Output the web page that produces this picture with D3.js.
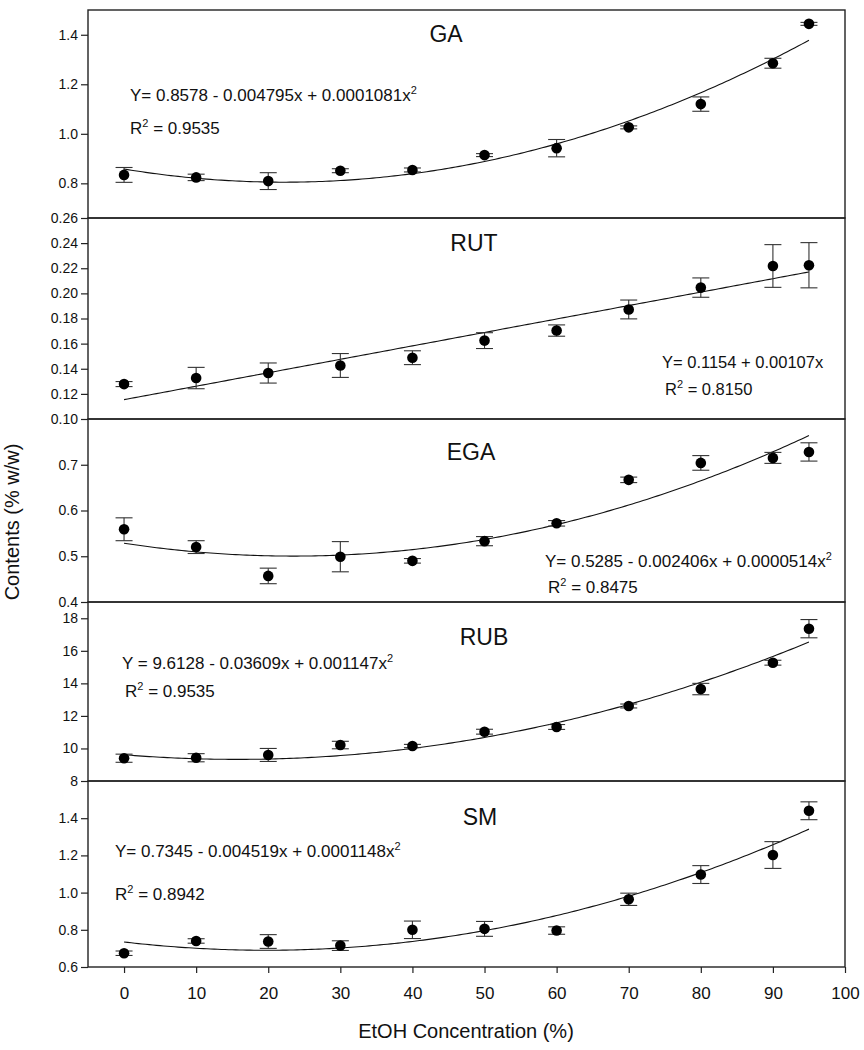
<!DOCTYPE html>
<html><head><meta charset="utf-8">
<script src="https://cdn.jsdelivr.net/npm/d3@7"></script>
<style>body{margin:0;background:#fff}svg{display:block}text{font-family:"Liberation Sans",Arial,sans-serif;fill:#111}</style>
</head><body><svg id="c" width="864" height="1050"></svg>
<script>
// ---- data ----
const xValues = [0, 10, 20, 30, 40, 50, 60, 70, 80, 90, 95];
const xTicks = [0, 10, 20, 30, 40, 50, 60, 70, 80, 90, 100];

const gaMean = [0.834, 0.824, 0.809, 0.851, 0.854, 0.914, 0.942, 1.026, 1.120, 1.285, 1.444];
const gaErr  = [0.030, 0.013, 0.034, 0.008, 0.008, 0.006, 0.035, 0.006, 0.029, 0.020, 0.006];
const gaCoef = [0.8578, -0.004795, 0.0001081];
const gaTicks = [0.8, 1.0, 1.2, 1.4];

const rutMean = [0.1278, 0.1326, 0.1366, 0.1426, 0.1488, 0.1624, 0.1704, 0.1872, 0.2046, 0.2218, 0.2224];
const rutErr  = [0.0020, 0.0085, 0.0080, 0.0095, 0.0055, 0.0063, 0.0045, 0.0075, 0.0077, 0.0170, 0.0180];
const rutCoef = [0.1154, 0.00107, 0];
const rutTicks = [0.10, 0.12, 0.14, 0.16, 0.18, 0.20, 0.22, 0.24, 0.26];

const egaMean = [0.559, 0.520, 0.457, 0.499, 0.490, 0.533, 0.572, 0.667, 0.704, 0.715, 0.728];
const egaErr  = [0.025, 0.014, 0.017, 0.033, 0.005, 0.010, 0.006, 0.006, 0.016, 0.012, 0.020];
const egaCoef = [0.5285, -0.002406, 0.0000514];
const egaTicks = [0.4, 0.5, 0.6, 0.7];

const rubMean = [9.40, 9.43, 9.60, 10.21, 10.15, 11.03, 11.32, 12.61, 13.65, 15.27, 17.36];
const rubErr  = [0.25, 0.25, 0.40, 0.23, 0.10, 0.15, 0.15, 0.12, 0.35, 0.15, 0.56];
const rubCoef = [9.6128, -0.03609, 0.001147];
const rubTicks = [8, 10, 12, 14, 16, 18];

const smMean = [0.674, 0.740, 0.737, 0.715, 0.800, 0.805, 0.796, 0.964, 1.097, 1.202, 1.440];
const smErr  = [0.012, 0.012, 0.037, 0.026, 0.047, 0.040, 0.020, 0.033, 0.048, 0.072, 0.048];
const smCoef = [0.7345, -0.004519, 0.0001148];
const smTicks = [0.6, 0.8, 1.0, 1.2, 1.4];

const names = ["GA", "RUT", "EGA", "RUB", "SM"];
const eqTexts = [
  ["Y= 0.8578 - 0.004795x + 0.0001081x", "2", "R", "2", " = 0.9535"],
  ["Y= 0.1154 + 0.00107x", "", "R", "2", " = 0.8150"],
  ["Y= 0.5285 - 0.002406x + 0.0000514x", "2", "R", "2", " = 0.8475"],
  ["Y = 9.6128 - 0.03609x + 0.001147x", "2", "R", "2", " = 0.9535"],
  ["Y= 0.7345 - 0.004519x + 0.0001148x", "2", "R", "2", " = 0.8942"]
];
const yDomains = [[0.66, 1.5], [0.10, 0.26], [0.4, 0.8], [8, 19], [0.6, 1.6]];
const tickFormats = [".1f", ".2f", ".1f", ".0f", ".1f"];

// ---- layout (not data) ----
const layout = [
  {top: 10,  bottom: 218, title: [446, 42],  eq: [130, 101], r2: [130, 134], fs: 17},
  {top: 218, bottom: 419, title: [474, 251], eq: [662, 368], r2: [665, 395], fs: 16.5},
  {top: 419, bottom: 602, title: [471, 460], eq: [545, 567], r2: [548, 593], fs: 17},
  {top: 602, bottom: 781, title: [484, 645], eq: [122, 669], r2: [125, 697], fs: 17},
  {top: 781, bottom: 967, title: [480, 825], eq: [115, 857], r2: [115, 900], fs: 17}
];
const means = [gaMean, rutMean, egaMean, rubMean, smMean];
const errs = [gaErr, rutErr, egaErr, rubErr, smErr];
const coefs = [gaCoef, rutCoef, egaCoef, rubCoef, smCoef];
const ticks = [gaTicks, rutTicks, egaTicks, rubTicks, smTicks];

const svg = d3.select("#c");
const left = 88, right = 845;
const x = d3.scaleLinear().domain([-5, 100]).range([left, right]);

layout.forEach((L, i) => {
  const y = d3.scaleLinear().domain(yDomains[i]).range([L.bottom, L.top]);
  const g = svg.append("g");

  // y axis
  const ax = g.append("g").attr("transform", `translate(${left},0)`)
    .call(d3.axisLeft(y).tickValues(ticks[i]).tickFormat(d3.format(tickFormats[i])).tickSize(7).tickPadding(3));
  ax.select(".domain").remove();
  ax.selectAll(".tick line").attr("stroke", "#222").attr("stroke-width", 1.2);
  ax.selectAll(".tick text").attr("font-size", 14).attr("font-family", "Liberation Sans, Arial, sans-serif").attr("fill", "#111");

  // frame
  g.append("rect").attr("x", left).attr("y", L.top).attr("width", right - left).attr("height", L.bottom - L.top)
    .attr("fill", "none").attr("stroke", "#222").attr("stroke-width", 1.4);

  // fit curve
  const c = coefs[i];
  const xs = d3.range(0, 95.01, 0.5);
  const line = d3.line().x(d => x(d)).y(d => y(c[0] + c[1] * d + c[2] * d * d));
  g.append("path").datum(xs).attr("d", line).attr("fill", "none").attr("stroke", "#111").attr("stroke-width", 1.1);

  // error bars
  const cap = 8.5;
  const pts = xValues.map((xv, k) => ({x: xv, m: means[i][k], e: errs[i][k]}));
  const eb = g.append("g").attr("stroke", "#333").attr("stroke-width", 1.1);
  pts.forEach(p => {
    eb.append("line").attr("x1", x(p.x)).attr("x2", x(p.x)).attr("y1", y(p.m - p.e)).attr("y2", y(p.m + p.e));
    eb.append("line").attr("x1", x(p.x) - cap).attr("x2", x(p.x) + cap).attr("y1", y(p.m + p.e)).attr("y2", y(p.m + p.e));
    eb.append("line").attr("x1", x(p.x) - cap).attr("x2", x(p.x) + cap).attr("y1", y(p.m - p.e)).attr("y2", y(p.m - p.e));
  });
  g.selectAll("circle.pt").data(pts).enter().append("circle").attr("class", "pt")
    .attr("cx", d => x(d.x)).attr("cy", d => y(d.m)).attr("r", 5.3).attr("fill", "#000");

  // title
  g.append("text").attr("x", L.title[0]).attr("y", L.title[1]).attr("text-anchor", "middle")
    .attr("font-size", 23).text(names[i]);

  // equation
  const t = eqTexts[i];
  const eq = g.append("text").attr("x", L.eq[0]).attr("y", L.eq[1]).attr("font-size", L.fs);
  eq.append("tspan").text(t[0]);
  if (t[1]) eq.append("tspan").attr("dy", -7).attr("font-size", 11).text(t[1]);
  const r2 = g.append("text").attr("x", L.r2[0]).attr("y", L.r2[1]).attr("font-size", L.fs);
  r2.append("tspan").text(t[2]);
  r2.append("tspan").attr("dy", -7).attr("font-size", 11).text(t[3]);
  r2.append("tspan").attr("dy", 7).text(t[4]);

  // x axis on bottom panel only
  if (i === layout.length - 1) {
    const xa = g.append("g").attr("transform", `translate(0,${L.bottom})`)
      .call(d3.axisBottom(x).tickValues(xTicks).tickSize(6).tickPadding(14));
    xa.select(".domain").remove();
    xa.selectAll(".tick line").attr("stroke", "#222").attr("stroke-width", 1.2);
    xa.selectAll(".tick text").attr("font-size", 17).attr("font-family", "Liberation Sans, Arial, sans-serif").attr("fill", "#111");
  }
});

// axis titles
svg.append("text").attr("x", 466).attr("y", 1038).attr("text-anchor", "middle").attr("font-size", 20)
  .text("EtOH Concentration (%)");
svg.append("text").attr("transform", "translate(19,522) rotate(-90)").attr("text-anchor", "middle").attr("font-size", 20)
  .text("Contents (% w/w)");
</script></body></html>
